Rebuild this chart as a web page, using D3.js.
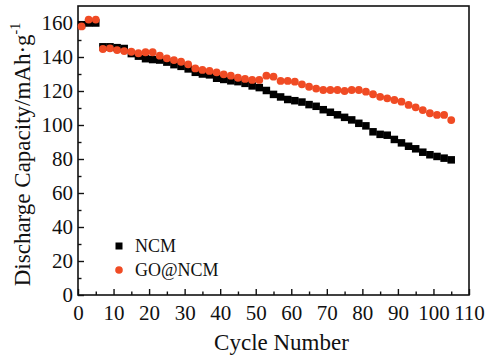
<!DOCTYPE html>
<html>
<head>
<meta charset="utf-8">
<script src="https://cdn.jsdelivr.net/npm/d3@7"></script>
<style>
  html, body { margin: 0; padding: 0; background: #fff; }
  svg text { font-family: "Times New Roman", "Liberation Serif", Tinos, "DejaVu Serif", serif !important; }
</style>
</head>
<body>
<svg id="chart" width="487" height="358"></svg>
<script>
// Cycle numbers (every second cycle is plotted)
const cycles = [1, 3, 5, 7, 9, 11, 13, 15, 17, 19, 21, 23, 25, 27, 29, 31, 33, 35, 37, 39,
  41, 43, 45, 47, 49, 51, 53, 55, 57, 59, 61, 63, 65, 67, 69, 71, 73, 75, 77, 79,
  81, 83, 85, 87, 89, 91, 93, 95, 97, 99, 101, 103, 105];

// Discharge capacity, mAh/g
const ncm = [159, 160, 160, 146, 146, 145.5, 145, 142, 140.5, 139, 138.5, 138.2, 137, 135.5, 134.5, 133, 131, 130, 129.5, 127.5,
  126.8, 126, 125.5, 124.5, 123, 122, 120.3, 118, 116.5, 115, 114.3, 113.5, 112, 111, 109, 107.5, 106, 104.5, 103, 101,
  99.5, 96, 94.5, 94, 91.5, 89.5, 87.5, 86, 84, 82.5, 81.5, 80.5, 79.5];

const goNcm = [158, 162, 162, 144.7, 145.1, 144.1, 143.5, 143.1, 142.2, 142.8, 142.8, 140.8, 139.2, 138.2, 137.2, 135.7, 133.3, 132.4, 131.8, 131,
  129.8, 129, 127.8, 127.1, 126.5, 126.5, 129, 128.4, 125.9, 125.9, 125.5, 123.9, 122.5, 121.4, 120.6, 120.6, 120.6, 120, 120.6, 120.6,
  119.6, 118.1, 116.6, 115.7, 114.7, 113.7, 111.8, 110.4, 108.8, 106.9, 105.9, 105.9, 102.9];

const xTicks = [0, 10, 20, 30, 40, 50, 60, 70, 80, 90, 100, 110];
const yTicks = [0, 20, 40, 60, 80, 100, 120, 140, 160];

const seriesNames = ["NCM", "GO@NCM"];
const red = "#f04b24";

const svg = d3.select("#chart");
const m = { left: 78, right: 469, top: 6, bottom: 295 };

const x = d3.scaleLinear().domain([0, 110]).range([m.left, m.right]);
const y = d3.scaleLinear().domain([0, 170]).range([m.bottom, m.top]);

// Frame
svg.append("rect")
  .attr("x", m.left).attr("y", m.top)
  .attr("width", m.right - m.left).attr("height", m.bottom - m.top)
  .attr("fill", "none").attr("stroke", "#111").attr("stroke-width", 1.6);

// Bottom axis, ticks pointing inward
const xAxis = d3.axisBottom(x).tickValues(xTicks).tickSize(-6).tickPadding(10).tickFormat(d3.format("d"));
const gx = svg.append("g").attr("transform", `translate(0,${m.bottom})`).call(xAxis);
gx.select(".domain").remove();
gx.selectAll(".tick line").attr("stroke", "#111").attr("stroke-width", 1.4);
gx.selectAll(".tick text").attr("font-size", 21).attr("fill", "#111");

const xMinor = d3.axisBottom(x).tickValues(d3.range(5, 110, 10)).tickSize(-3.5).tickFormat("");
const gxm = svg.append("g").attr("transform", `translate(0,${m.bottom})`).call(xMinor);
gxm.select(".domain").remove();
gxm.selectAll(".tick line").attr("stroke", "#111").attr("stroke-width", 1.4);

// Left axis, ticks pointing inward
const yAxis = d3.axisLeft(y).tickValues(yTicks).tickSize(-6).tickPadding(5).tickFormat(d3.format("d"));
const gy = svg.append("g").attr("transform", `translate(${m.left},0)`).call(yAxis);
gy.select(".domain").remove();
gy.selectAll(".tick line").attr("stroke", "#111").attr("stroke-width", 1.4);
gy.selectAll(".tick text").attr("font-size", 21).attr("fill", "#111");

const yMinor = d3.axisLeft(y).tickValues(d3.range(10, 170, 20)).tickSize(-3.5).tickFormat("");
const gym = svg.append("g").attr("transform", `translate(${m.left},0)`).call(yMinor);
gym.select(".domain").remove();
gym.selectAll(".tick line").attr("stroke", "#111").attr("stroke-width", 1.4);

// Axis titles
svg.append("text")
  .attr("x", (m.left + m.right) / 2 + 8).attr("y", 350)
  .attr("text-anchor", "middle").attr("font-size", 23).attr("fill", "#111")
  .text("Cycle Number");

const yt = svg.append("text")
  .attr("transform", `translate(30,${(m.top + m.bottom) / 2 + 4}) rotate(-90)`)
  .attr("text-anchor", "middle").attr("font-size", 23).attr("fill", "#111");
yt.append("tspan").text("Discharge Capacity/mAh\u00b7g");
yt.append("tspan").attr("font-size", 14).attr("dy", -10).text("-1");

// Markers: NCM squares underneath, GO@NCM circles on top
const sq = 7.5;
svg.append("g").selectAll("rect")
  .data(cycles.map((c, i) => [c, ncm[i]]))
  .join("rect")
  .attr("x", d => x(d[0]) - sq / 2).attr("y", d => y(d[1]) - sq / 2)
  .attr("width", sq).attr("height", sq).attr("fill", "#000");

svg.append("g").selectAll("circle")
  .data(cycles.map((c, i) => [c, goNcm[i]]))
  .join("circle")
  .attr("cx", d => x(d[0])).attr("cy", d => y(d[1]))
  .attr("r", 3.9).attr("fill", red);

// Legend
const lg = svg.append("g");
lg.append("rect").attr("x", 119 - 3.5).attr("y", 246 - 3.5).attr("width", 7).attr("height", 7).attr("fill", "#000");
lg.append("circle").attr("cx", 119).attr("cy", 270).attr("r", 3.8).attr("fill", red);
lg.append("text").attr("x", 135).attr("y", 252).attr("font-size", 18).attr("fill", "#111").text(seriesNames[0]);
lg.append("text").attr("x", 135).attr("y", 276).attr("font-size", 18).attr("fill", "#111").text(seriesNames[1]);
</script>
</body>
</html>
